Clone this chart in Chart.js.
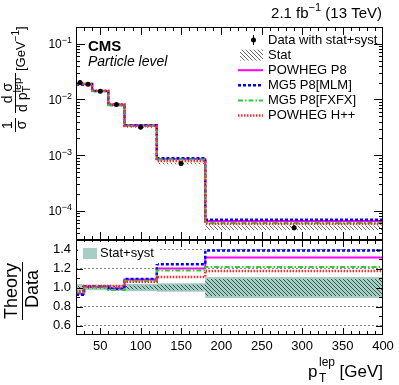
<!DOCTYPE html>
<html>
<head>
<meta charset="utf-8">
<script src="https://cdn.jsdelivr.net/npm/chart.js@4.4.0/dist/chart.umd.min.js"></script>
<style>
    body { margin: 0; background: #fff; }
    #wrap { position: relative; width: 399px; height: 385px; }
    #wrap canvas { position: absolute; left: 0; top: 0; }
</style>
</head>
<body>
<div id="wrap">
    <canvas id="mainChart" width="399" height="385"></canvas>
    <canvas id="ratioChart" width="399" height="385"></canvas>
</div>
<script>
// Bins (GeV) and measured normalised cross section
const binEdges = [20, 30, 40, 60, 80, 120, 180, 400];
const binCenters = [25, 35, 50, 70, 100, 150, 290];
const dataXsec = [0.0201, 0.0187, 0.0141, 0.0081, 0.00316, 0.000708, 0.000050];
const totUnc = [0.035, 0.03, 0.03, 0.03, 0.04, 0.045, 0.11];
const statUnc = [0.015, 0.012, 0.012, 0.015, 0.02, 0.03, 0.09];

// Theory / Data per bin
const ratioPowhegP8 = [0.935, 1.005, 1.005, 0.99, 1.085, 1.20, 1.315];
const ratioMlm = [0.925, 1.01, 1.01, 0.985, 1.09, 1.245, 1.39];
const ratioFxfx = [0.95, 1.0, 1.0, 0.975, 1.07, 1.18, 1.215];
const ratioHerwig = [0.96, 1.015, 1.015, 1.015, 1.06, 1.11, 1.175];

// Axis ticks
const xTicks = [50, 100, 150, 200, 250, 300, 350, 400];
const ratioTicks = [0.6, 0.8, 1, 1.2, 1.4];
const logDecades = [1e-4, 1e-3, 1e-2, 1e-1];

const FONT = "'Liberation Sans', Arial, Helvetica, sans-serif";
Chart.defaults.font.family = FONT;
Chart.defaults.color = '#000';

const models = [
    { label: 'POWHEG P8', ratio: ratioPowhegP8, color: '#ff00ff', dash: [], width: 2 },
    { label: 'MG5 P8[MLM]', ratio: ratioMlm, color: '#0000ff', dash: [3, 2], width: 2.5 },
    { label: 'MG5 P8[FXFX]', ratio: ratioFxfx, color: '#33cc33', dash: [5, 2, 1.5, 2], width: 2 },
    { label: 'POWHEG H++', ratio: ratioHerwig, color: '#ff2a2a', dash: [1.5, 1.5], width: 2.5 }
];

function makeHatch(color) {
    const c = document.createElement('canvas');
    c.width = 4; c.height = 4;
    const g = c.getContext('2d');
    g.strokeStyle = color;
    g.lineWidth = 1;
    g.beginPath();
    g.moveTo(-1, -1); g.lineTo(5, 5);
    g.moveTo(3, -1); g.lineTo(5, 1);
    g.moveTo(-1, 3); g.lineTo(1, 5);
    g.stroke();
    return g.createPattern(c, 'repeat');
}
const hatchGray = makeHatch('#666');
const hatchTeal = makeHatch('#2f5d55');
const tealFill = '#a8cdc4';

function histPoints(values) {
    return binEdges.map((e, i) => ({ x: e, y: values[Math.min(i, values.length - 1)] }));
}

function stepLine(values, m) {
    return {
        label: m.label, data: histPoints(values), stepped: true,
        borderColor: m.color, borderWidth: m.width, borderDash: m.dash,
        pointRadius: 0, fill: false
    };
}

function bandEdge(values, fillStyle) {
    return {
        data: histPoints(values), stepped: true,
        borderColor: 'rgba(0,0,0,0)', borderWidth: 0, pointRadius: 0,
        fill: fillStyle ? '+1' : false,
        backgroundColor: fillStyle || 'rgba(0,0,0,0)'
    };
}

function drawXTicks(ctx, xs, y, dir, majLen, minLen) {
    ctx.beginPath();
    for (let v = 30; v < 400; v += 10) {
        const x = Math.round(xs.getPixelForValue(v)) + 0.5;
        const len = v % 50 === 0 ? majLen : minLen;
        ctx.moveTo(x, y);
        ctx.lineTo(x, y + dir * len);
    }
    ctx.stroke();
}

// text rotated by -90deg, anchor at screen (x, y), text runs upward
function rotText(ctx, text, font, x, y, align) {
    ctx.save();
    ctx.translate(x, y);
    ctx.rotate(-Math.PI / 2);
    ctx.font = font;
    ctx.textAlign = align;
    ctx.textBaseline = 'alphabetic';
    ctx.fillText(text, 0, 0);
    const w = ctx.measureText(text).width;
    ctx.restore();
    return w;
}

function vbar(ctx, x, y1, y2) {
    ctx.beginPath();
    ctx.moveTo(x, y1);
    ctx.lineTo(x, y2);
    ctx.stroke();
}

function frame(ctx, a) {
    ctx.strokeRect(Math.round(a.left) + 0.5, Math.round(a.top) + 0.5,
        Math.round(a.right - a.left) - 1, Math.round(a.bottom - a.top) - 1);
}

const mainDecor = {
    id: 'mainDecor',
    afterDatasetsDraw(chart) {
        const ctx = chart.ctx, xs = chart.scales.x, ys = chart.scales.y;
        ctx.save();
        ctx.strokeStyle = '#000';
        ctx.lineWidth = 1;
        binCenters.forEach((c, i) => {
            const x = xs.getPixelForValue(c);
            vbar(ctx, x, ys.getPixelForValue(dataXsec[i] * (1 + totUnc[i])),
                ys.getPixelForValue(dataXsec[i] * (1 - totUnc[i])));
        });
        ctx.restore();
    },
    afterDraw(chart) {
        const ctx = chart.ctx, xs = chart.scales.x, ys = chart.scales.y;
        const a = chart.chartArea;
        ctx.save();
        ctx.strokeStyle = '#000';
        ctx.fillStyle = '#000';
        ctx.lineWidth = 1;
        frame(ctx, a);
        drawXTicks(ctx, xs, a.top, 1, 8, 4);
        drawXTicks(ctx, xs, a.bottom, -1, 8, 4);

        // log ticks on both sides
        ctx.beginPath();
        for (let e = -5; e <= -1; e++) {
            for (let m = 1; m <= 9; m++) {
                const v = m * Math.pow(10, e);
                if (v < ys.min * 1.0001 || v > ys.max * 0.9999) continue;
                const y = Math.round(ys.getPixelForValue(v)) + 0.5;
                const len = m === 1 ? 9 : 4;
                ctx.moveTo(a.left, y); ctx.lineTo(a.left + len, y);
                ctx.moveTo(a.right, y); ctx.lineTo(a.right - len, y);
            }
        }
        ctx.stroke();

        // log tick labels 10^n
        ctx.textAlign = 'right';
        ctx.textBaseline = 'alphabetic';
        logDecades.forEach(v => {
            const y = ys.getPixelForValue(v);
            const exp = String(Math.round(Math.log10(v))).replace('-', '\u2212');
            ctx.font = `9px ${FONT}`;
            const supW = ctx.measureText(exp).width;
            ctx.fillText(exp, a.left - 4, y - 0.5);
            ctx.font = `12px ${FONT}`;
            ctx.fillText('10', a.left - 4 - supW, y + 4.5);
        });

        // header
        ctx.textAlign = 'left';
        ctx.font = `15px ${FONT}`;
        const tail = ' (13 TeV)';
        const head = '2.1 fb';
        const wTail = ctx.measureText(tail).width;
        const wHead = ctx.measureText(head).width;
        ctx.font = `11px ${FONT}`;
        const sup = '\u22121';
        const wSup = ctx.measureText(sup).width;
        let hx = 382 - wTail - wSup - wHead;
        ctx.font = `15px ${FONT}`;
        ctx.fillText(head, hx, 17.5);
        ctx.font = `11px ${FONT}`;
        ctx.fillText(sup, hx + wHead, 11);
        ctx.font = `15px ${FONT}`;
        ctx.fillText(tail, hx + wHead + wSup, 17.5);

        // CMS label
        ctx.font = `bold 15px ${FONT}`;
        ctx.fillText('CMS', 88, 51);
        ctx.font = `italic 14px ${FONT}`;
        ctx.fillText('Particle level', 88, 65.5);

        // legend
        const legTop = 40, legStep = 15.1;
        const labels = ['Data with stat+syst', 'Stat'].concat(models.map(m => m.label));
        ctx.font = `13px ${FONT}`;
        ctx.textBaseline = 'middle';
        labels.forEach((t, i) => ctx.fillText(t, 268, legTop + i * legStep));
        ctx.beginPath();
        ctx.arc(253.5, legTop, 2.5, 0, 2 * Math.PI);
        ctx.fill();
        vbar(ctx, 253.5, legTop - 5, legTop + 5);
        ctx.fillStyle = hatchGray;
        ctx.fillRect(240, legTop + legStep - 5.5, 23, 11);
        models.forEach((m, i) => {
            const y = legTop + (i + 2) * legStep;
            ctx.strokeStyle = m.color;
            ctx.lineWidth = m.width;
            ctx.setLineDash(m.dash);
            ctx.beginPath();
            ctx.moveTo(238, y);
            ctx.lineTo(263, y);
            ctx.stroke();
        });
        ctx.setLineDash([]);

        // y title: 1/sigma dsigma/dpT [GeV^-1]
        ctx.fillStyle = '#000';
        ctx.strokeStyle = '#000';
        ctx.lineWidth = 1;
        const f14 = `14px ${FONT}`, f13 = `13px ${FONT}`, f11 = `11px ${FONT}`, f10 = `10px ${FONT}`;
        rotText(ctx, '1', f14, 12, 125, 'center');
        rotText(ctx, '\u03c3', f14, 26, 125, 'center');
        vbar(ctx, 15.5, 118, 132);
        rotText(ctx, 'd \u03c3', f14, 12, 93, 'center');
        vbar(ctx, 15.5, 73, 113);
        const wdp = rotText(ctx, 'd p', f14, 27, 112, 'left');
        rotText(ctx, 'T', f11, 30, 112 - wdp, 'left');
        rotText(ctx, 'lep', f11, 21, 112 - wdp, 'left');
        const wg = rotText(ctx, '[GeV', f13, 25, 71, 'left');
        const ws = rotText(ctx, '\u22121', f10, 19, 71 - wg, 'left');
        rotText(ctx, ']', f13, 25, 71 - wg - ws, 'left');
        ctx.restore();
    }
};

const ratioDecor = {
    id: 'ratioDecor',
    afterDraw(chart) {
        const ctx = chart.ctx, xs = chart.scales.x, ys = chart.scales.y;
        const a = chart.chartArea;
        ctx.save();
        ctx.strokeStyle = '#000';
        ctx.fillStyle = '#000';
        ctx.lineWidth = 1;
        frame(ctx, a);
        drawXTicks(ctx, xs, a.top, 1, 7, 4);
        drawXTicks(ctx, xs, a.bottom, -1, 7, 4);
        ctx.beginPath();
        for (let v = 0.6; v < 1.45; v += 0.1) {
            const y = Math.round(ys.getPixelForValue(v)) + 0.5;
            const major = ratioTicks.some(t => Math.abs(t - v) < 1e-6);
            const len = major ? 7 : 4;
            ctx.moveTo(a.left, y); ctx.lineTo(a.left + len, y);
            ctx.moveTo(a.right, y); ctx.lineTo(a.right - len, y);
        }
        ctx.stroke();

        // legend
        ctx.fillStyle = '#fff';
        ctx.fillRect(78, 242, 80, 22);
        ctx.fillStyle = tealFill;
        ctx.fillRect(83, 248, 14, 11);
        ctx.fillStyle = '#000';
        ctx.font = `13px ${FONT}`;
        ctx.textAlign = 'left';
        ctx.textBaseline = 'middle';
        ctx.fillText('Stat+syst', 100, 253.5);

        // y title Theory / Data
        const f18 = `18px ${FONT}`;
        rotText(ctx, 'Theory', f18, 17, 291, 'center');
        vbar(ctx, 22.5, 262, 320);
        rotText(ctx, 'Data', f18, 38, 289, 'center');

        // x title p_T^lep [GeV]
        ctx.textBaseline = 'alphabetic';
        ctx.font = `17px ${FONT}`;
        ctx.fillText('p', 308, 377);
        ctx.font = `12px ${FONT}`;
        ctx.fillText('lep', 319, 366);
        ctx.fillText('T', 319, 382);
        ctx.font = `17px ${FONT}`;
        ctx.textAlign = 'right';
        ctx.fillText('[GeV]', 383, 377);
        ctx.restore();
    }
};

const commonOpts = {
    responsive: false,
    animation: false,
    events: [],
    plugins: { legend: { display: false }, tooltip: { enabled: false } }
};

// Main (log) panel
const mainDatasets = [
    {
        data: binCenters.map((x, i) => ({ x: x, y: dataXsec[i] })),
        showLine: false, pointRadius: 2.5, pointBackgroundColor: '#000',
        pointBorderWidth: 0, borderColor: '#000'
    }
].concat(
    models.slice().reverse().map(m => stepLine(dataXsec.map((d, i) => d * m.ratio[i]), m)),
    [
        bandEdge(dataXsec.map((d, i) => d * (1 + statUnc[i])), hatchGray),
        bandEdge(dataXsec.map((d, i) => d * (1 - statUnc[i])), null)
    ]
);

new Chart(document.getElementById('mainChart'), {
    type: 'line',
    data: { datasets: mainDatasets },
    options: Object.assign({}, commonOpts, {
        layout: { padding: { top: 27, right: 16, bottom: 145, left: 76 } },
        scales: {
            x: { type: 'linear', min: 20, max: 400, display: false },
            y: { type: 'logarithmic', min: 3e-5, max: 0.2, display: false }
        }
    }),
    plugins: [mainDecor]
});

// Ratio panel
const ratioDatasets = models.slice().reverse().map(m => stepLine(m.ratio, m)).concat([
    bandEdge(statUnc.map(u => 1 + u), hatchTeal),
    bandEdge(statUnc.map(u => 1 - u), null),
    bandEdge(totUnc.map(u => 1 + u), tealFill),
    bandEdge(totUnc.map(u => 1 - u), null)
]);

new Chart(document.getElementById('ratioChart'), {
    type: 'line',
    data: { datasets: ratioDatasets },
    options: Object.assign({}, commonOpts, {
        layout: { padding: { top: 240, right: 16, bottom: 30, left: 0 } },
        scales: {
            x: {
                type: 'linear', min: 20, max: 400,
                afterBuildTicks: s => { s.ticks = xTicks.map(v => ({ value: v })); },
                afterFit: s => { s.height = 20; },
                grid: { display: false },
                border: { display: false },
                ticks: { font: { size: 13 }, padding: -4, maxRotation: 0, autoSkip: false }
            },
            y: {
                type: 'linear', min: 0.5, max: 1.5,
                afterBuildTicks: s => { s.ticks = ratioTicks.map(v => ({ value: v })); },
                afterFit: s => { s.width = 76; },
                grid: { color: '#888', lineWidth: 1, drawTicks: false },
                border: { display: false, dash: [2, 2] },
                ticks: { font: { size: 13 }, padding: 5 }
            }
        }
    }),
    plugins: [ratioDecor]
});
</script>
</body>
</html>
